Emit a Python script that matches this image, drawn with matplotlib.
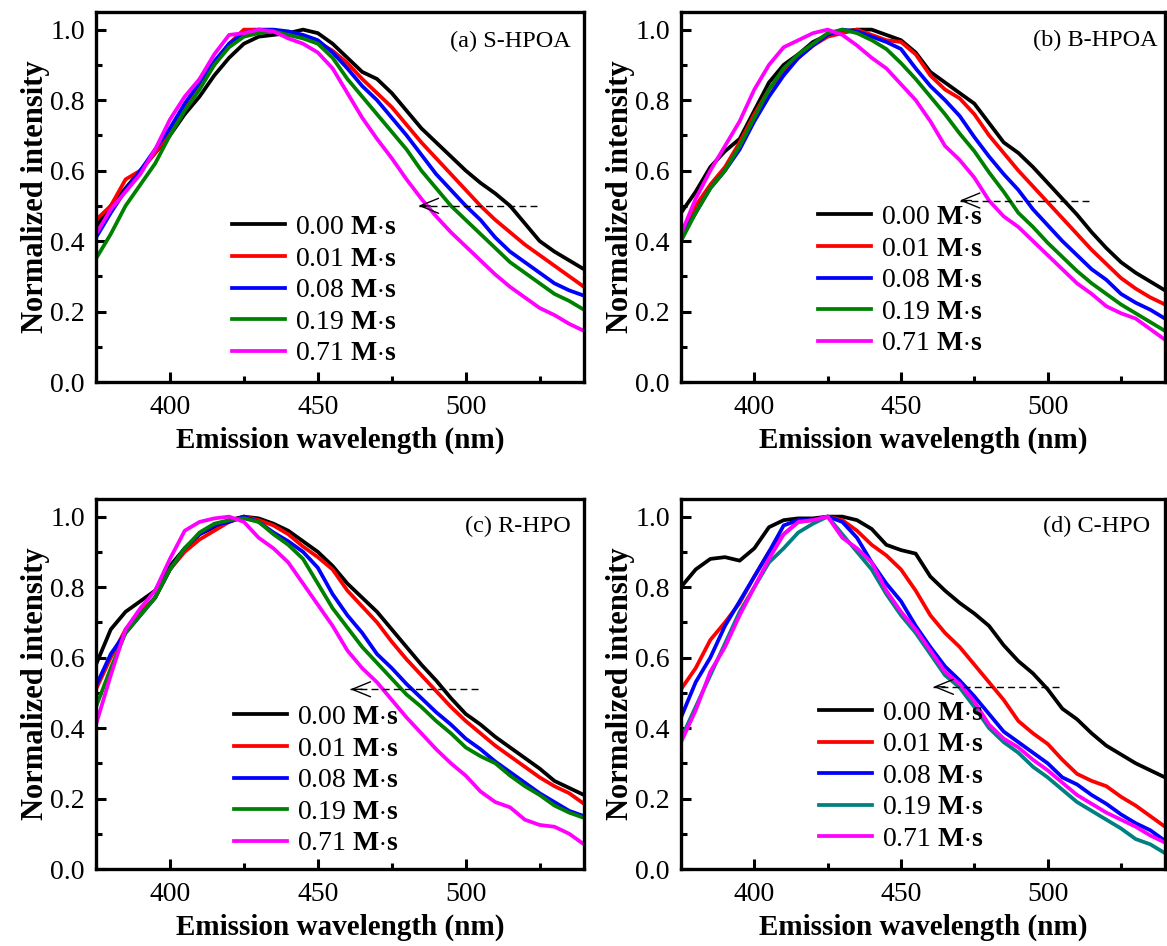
import matplotlib
matplotlib.use("Agg")
import matplotlib.pyplot as plt
from matplotlib.ticker import MultipleLocator, FormatStrFormatter

plt.rcParams['font.family'] = ['Liberation Serif', 'DejaVu Serif']
plt.rcParams['mathtext.fontset'] = 'custom'
plt.rcParams['mathtext.rm'] = 'Liberation Serif'
plt.rcParams['mathtext.bf'] = 'Liberation Serif:bold'

wavelength = [375, 380, 385, 390, 395, 400, 405, 410, 415, 420, 425, 430, 435, 440,
              445, 450, 455, 460, 465, 470, 475, 480, 485, 490, 495, 500, 505, 510,
              515, 520, 525, 530, 535, 540]

doses = ["0.00", "0.01", "0.08", "0.19", "0.71"]
panel_titles = ["(a) S-HPOA", "(b) B-HPOA", "(c) R-HPO", "(d) C-HPO"]

# (a) S-HPOA
a_000 = [0.44, 0.50, 0.55, 0.60, 0.65, 0.70, 0.76, 0.81, 0.87, 0.92, 0.96, 0.98, 0.985, 0.99,
         1.0, 0.99, 0.96, 0.92, 0.88, 0.86, 0.82, 0.77, 0.72, 0.68, 0.64, 0.60, 0.565, 0.535,
         0.50, 0.45, 0.40, 0.37, 0.345, 0.32]
a_001 = [0.46, 0.50, 0.575, 0.60, 0.65, 0.71, 0.78, 0.84, 0.90, 0.96, 1.0, 1.0, 0.995, 0.99,
         0.98, 0.965, 0.94, 0.905, 0.86, 0.82, 0.78, 0.73, 0.68, 0.635, 0.59, 0.545, 0.50, 0.46,
         0.425, 0.39, 0.36, 0.33, 0.30, 0.27]
a_008 = [0.41, 0.48, 0.545, 0.60, 0.66, 0.72, 0.79, 0.85, 0.91, 0.96, 0.99, 1.0, 1.0, 0.995,
         0.985, 0.97, 0.935, 0.89, 0.84, 0.80, 0.75, 0.70, 0.645, 0.59, 0.545, 0.50, 0.46, 0.41,
         0.37, 0.34, 0.31, 0.28, 0.26, 0.245]
a_019 = [0.35, 0.42, 0.50, 0.56, 0.62, 0.70, 0.77, 0.83, 0.90, 0.95, 0.98, 0.99, 0.995, 0.985,
         0.975, 0.96, 0.92, 0.86, 0.81, 0.76, 0.71, 0.66, 0.60, 0.55, 0.50, 0.46, 0.42, 0.38,
         0.34, 0.31, 0.28, 0.25, 0.23, 0.205]
a_071 = [0.42, 0.49, 0.54, 0.59, 0.66, 0.745, 0.81, 0.86, 0.93, 0.985, 0.99, 1.0, 0.995, 0.975,
         0.96, 0.935, 0.89, 0.82, 0.75, 0.69, 0.635, 0.575, 0.52, 0.47, 0.425, 0.385, 0.345, 0.305,
         0.27, 0.24, 0.21, 0.19, 0.165, 0.145]

# (b) B-HPOA
b_000 = [0.48, 0.54, 0.61, 0.655, 0.69, 0.77, 0.85, 0.90, 0.93, 0.965, 0.985, 0.995, 1.0, 1.0,
         0.985, 0.97, 0.935, 0.88, 0.85, 0.82, 0.79, 0.735, 0.68, 0.65, 0.61, 0.565, 0.52, 0.475,
         0.425, 0.38, 0.34, 0.31, 0.285, 0.26]
b_001 = [0.42, 0.50, 0.56, 0.61, 0.68, 0.76, 0.83, 0.88, 0.92, 0.955, 0.98, 0.99, 1.0, 0.985,
         0.97, 0.965, 0.93, 0.87, 0.83, 0.805, 0.76, 0.70, 0.65, 0.60, 0.555, 0.51, 0.465, 0.42,
         0.375, 0.335, 0.295, 0.265, 0.24, 0.22]
b_008 = [0.41, 0.48, 0.55, 0.60, 0.66, 0.74, 0.81, 0.87, 0.92, 0.955, 0.985, 1.0, 0.995, 0.98,
         0.965, 0.945, 0.89, 0.84, 0.80, 0.755, 0.695, 0.64, 0.59, 0.545, 0.49, 0.445, 0.40, 0.36,
         0.32, 0.29, 0.25, 0.225, 0.205, 0.18]
b_019 = [0.40, 0.48, 0.55, 0.60, 0.67, 0.75, 0.83, 0.89, 0.93, 0.96, 0.99, 1.0, 0.99, 0.97,
         0.945, 0.905, 0.86, 0.81, 0.76, 0.705, 0.655, 0.595, 0.54, 0.48, 0.44, 0.395, 0.355, 0.315,
         0.28, 0.25, 0.22, 0.195, 0.17, 0.145]
b_071 = [0.42, 0.52, 0.60, 0.67, 0.74, 0.83, 0.90, 0.95, 0.97, 0.99, 1.0, 0.985, 0.955, 0.92,
         0.89, 0.845, 0.80, 0.74, 0.67, 0.63, 0.58, 0.515, 0.47, 0.44, 0.40, 0.36, 0.32, 0.28,
         0.25, 0.215, 0.195, 0.18, 0.15, 0.12]

# (c) R-HPO
c_000 = [0.58, 0.68, 0.73, 0.76, 0.79, 0.86, 0.91, 0.95, 0.97, 0.99, 1.0, 0.995, 0.98, 0.96,
         0.93, 0.90, 0.86, 0.81, 0.77, 0.73, 0.68, 0.63, 0.58, 0.535, 0.485, 0.44, 0.41, 0.375,
         0.345, 0.315, 0.285, 0.25, 0.23, 0.21]
c_001 = [0.51, 0.60, 0.68, 0.73, 0.77, 0.85, 0.90, 0.935, 0.96, 0.985, 1.0, 0.99, 0.975, 0.95,
         0.915, 0.885, 0.85, 0.79, 0.745, 0.70, 0.645, 0.595, 0.55, 0.505, 0.46, 0.42, 0.385, 0.35,
         0.32, 0.29, 0.26, 0.235, 0.215, 0.185]
c_008 = [0.52, 0.61, 0.67, 0.72, 0.77, 0.85, 0.91, 0.95, 0.975, 0.985, 1.0, 0.985, 0.955, 0.93,
         0.90, 0.855, 0.78, 0.72, 0.67, 0.61, 0.57, 0.525, 0.485, 0.445, 0.41, 0.37, 0.34, 0.305,
         0.275, 0.245, 0.215, 0.19, 0.165, 0.15]
c_019 = [0.46, 0.57, 0.67, 0.72, 0.77, 0.85, 0.91, 0.955, 0.98, 0.99, 0.995, 0.985, 0.95, 0.92,
         0.88, 0.81, 0.74, 0.685, 0.63, 0.585, 0.54, 0.495, 0.46, 0.42, 0.385, 0.345, 0.32, 0.30,
         0.265, 0.235, 0.21, 0.18, 0.16, 0.145]
c_071 = [0.41, 0.55, 0.68, 0.74, 0.79, 0.88, 0.96, 0.985, 0.995, 1.0, 0.985, 0.94, 0.91, 0.87,
         0.81, 0.75, 0.69, 0.62, 0.57, 0.53, 0.48, 0.43, 0.385, 0.34, 0.30, 0.265, 0.22, 0.19,
         0.175, 0.14, 0.125, 0.12, 0.10, 0.07]

# (d) C-HPO
d_000 = [0.80, 0.85, 0.88, 0.885, 0.875, 0.91, 0.97, 0.99, 0.995, 0.995, 1.0, 1.0, 0.99, 0.965,
         0.92, 0.905, 0.895, 0.83, 0.79, 0.755, 0.725, 0.69, 0.635, 0.59, 0.555, 0.51, 0.455, 0.425,
         0.385, 0.35, 0.325, 0.30, 0.28, 0.26]
d_001 = [0.51, 0.57, 0.65, 0.70, 0.755, 0.83, 0.90, 0.95, 0.985, 0.99, 1.0, 0.99, 0.96, 0.92,
         0.89, 0.85, 0.79, 0.72, 0.67, 0.63, 0.58, 0.53, 0.48, 0.42, 0.385, 0.355, 0.31, 0.27,
         0.25, 0.235, 0.205, 0.18, 0.15, 0.12]
d_008 = [0.43, 0.53, 0.60, 0.69, 0.76, 0.83, 0.90, 0.975, 0.99, 0.99, 1.0, 0.985, 0.94, 0.87,
         0.81, 0.76, 0.69, 0.63, 0.575, 0.535, 0.49, 0.44, 0.39, 0.36, 0.33, 0.30, 0.26, 0.24,
         0.21, 0.185, 0.155, 0.13, 0.11, 0.08]
d_019 = [0.37, 0.46, 0.55, 0.64, 0.73, 0.80, 0.87, 0.91, 0.955, 0.98, 1.0, 0.95, 0.90, 0.85,
         0.78, 0.72, 0.67, 0.61, 0.55, 0.515, 0.46, 0.40, 0.36, 0.33, 0.29, 0.26, 0.225, 0.19,
         0.165, 0.14, 0.115, 0.085, 0.07, 0.045]
d_071 = [0.36, 0.45, 0.56, 0.63, 0.72, 0.80, 0.88, 0.95, 0.985, 0.99, 1.0, 0.94, 0.91, 0.87,
         0.79, 0.73, 0.68, 0.62, 0.56, 0.525, 0.475, 0.41, 0.37, 0.345, 0.31, 0.28, 0.245, 0.21,
         0.185, 0.16, 0.14, 0.12, 0.095, 0.075]

panel_series = [
    [a_000, a_001, a_008, a_019, a_071],
    [b_000, b_001, b_008, b_019, b_071],
    [c_000, c_001, c_008, c_019, c_071],
    [d_000, d_001, d_008, d_019, d_071],
]

# dashed arrow: (tail x, head x, y)
arrow_tail_x = [524, 514, 504, 504]
arrow_head_x = [484, 470, 461, 461]
arrow_y = [0.50, 0.515, 0.51, 0.517]

colors_std = ["#000000", "#ff0000", "#0000ff", "#008000", "#ff00ff"]
colors_d = ["#000000", "#ff0000", "#0000ff", "#008080", "#ff00ff"]

fig = plt.figure(figsize=(11.67, 9.46), dpi=100)
W, H = 1167, 946
boxes = [(96, 12, 584, 382), (681, 12, 1165, 382), (96, 499, 584, 869), (681, 499, 1165, 869)]
legend_anchor = [(0.279, 0.452), (0.284, 0.479), (0.283, 0.444), (0.286, 0.456)]
title_pos = [(0.972, 0.92), (0.985, 0.924), (0.972, 0.925), (0.97, 0.925)]

for i, (l, t, r, b) in enumerate(boxes):
    ax = fig.add_axes([l / W, 1 - b / H, (r - l) / W, (b - t) / H])
    cols = colors_d if i == 3 else colors_std
    for dose, ys, c in zip(doses, panel_series[i], cols):
        ax.plot(wavelength, ys, color=c, lw=2.7,
                label=dose + r" $\mathbf{M{\cdot}s}$")
    ax.set_xlim(375, 540)
    ax.set_ylim(0, 1.05)
    ax.xaxis.set_major_locator(MultipleLocator(50))
    ax.xaxis.set_minor_locator(MultipleLocator(25))
    ax.yaxis.set_major_locator(MultipleLocator(0.2))
    ax.yaxis.set_minor_locator(MultipleLocator(0.1))
    ax.yaxis.set_major_formatter(FormatStrFormatter('%.1f'))
    ax.tick_params(which='major', direction='in', length=7.5, width=2.2, labelsize=20,
                   top=False, right=False)
    ax.tick_params(axis='x', which='major', pad=9)
    ax.tick_params(axis='y', which='major', pad=8)
    ax.tick_params(which='minor', direction='in', length=4.5, width=2.2,
                   top=False, right=False)
    for sp in ax.spines.values():
        sp.set_linewidth(2.4)
    ax.set_xlabel("Emission wavelength (nm)", fontsize=21, fontweight='bold')
    ax.set_ylabel("Normalized intensity", fontsize=22, fontweight='bold')
    ax.xaxis.set_label_coords(0.5, -0.122)
    ax.yaxis.set_label_coords(-0.095, 0.5)
    ax.text(title_pos[i][0], title_pos[i][1], panel_titles[i], transform=ax.transAxes,
            ha='right', va='center', fontsize=17.5)
    # dashed guide with open arrowhead
    ax.plot([arrow_tail_x[i], arrow_head_x[i]], [arrow_y[i], arrow_y[i]],
            color='black', lw=1.0, ls=(0, (5, 3)))
    ax.annotate("", xy=(arrow_head_x[i], arrow_y[i]),
                xytext=(arrow_head_x[i] + 4, arrow_y[i]),
                arrowprops=dict(arrowstyle='->,head_length=1.1,head_width=0.45',
                                mutation_scale=12, color='black', lw=1.0,
                                shrinkA=0, shrinkB=0))
    ax.legend(loc='upper left', bbox_to_anchor=legend_anchor[i], frameon=False,
              fontsize=20, handlelength=1.9, handletextpad=0.35, labelspacing=0.22,
              borderpad=0, borderaxespad=0)

fig.savefig("out.png", dpi=100)
